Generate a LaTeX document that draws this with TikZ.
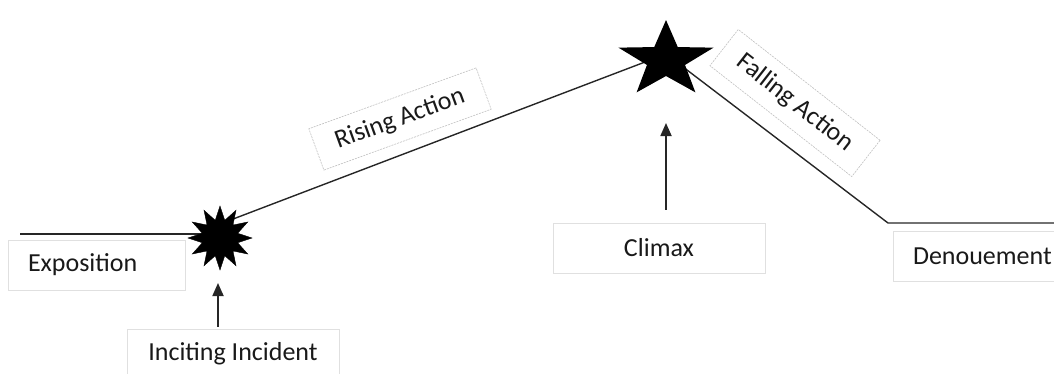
\documentclass[tikz,border=0pt]{standalone}
\usepackage{fontspec}
\setmainfont{Carlito}
\usetikzlibrary{shapes.geometric,arrows.meta,backgrounds,calc}
\begin{document}
\begin{tikzpicture}[x=1pt,y=1pt,
  lbl/.style={font=\fontsize{26}{30}\selectfont, text=black!90},
  box/.style={lbl, draw=black!12, line width=0.8pt, inner sep=0pt, minimum height=50pt},
  dbox/.style={lbl, draw=black!25, dashed, dash pattern=on 2pt off 1pt, line width=0.6pt, inner sep=0pt},
  plot/.style={line width=1.4pt, draw=black!85},
  up/.style={line width=1.8pt, draw=black!85, -{Triangle[width=11pt,length=13pt]}}
]
\useasboundingbox (0,0) rectangle (1054,-373);

% labels
\node[box, text width=137pt, inner xsep=20pt, align=left] (expo) at (96.5,-265) {Exposition};
\node[box, minimum width=212pt] (climax) at (659,-248) {Climax};
\node[box, text width=130pt, inner xsep=20pt, align=left] (denou) at (978,-256.5) {Denouement};
\node[box, minimum width=212pt] (incite) at (233,-354) {Inciting Incident};
\node[dbox, rotate=20, minimum width=178pt, minimum height=44pt] (rising) at (400,-119) {Rising Action};
\node[dbox, rotate=-38, minimum width=180pt, minimum height=46pt] (falling) at (795,-103) {Falling Action};

% markers
\node[star, star points=12, star point ratio=1.75, fill=black, draw=black, minimum size=64pt, inner sep=0pt] (burst) at (220,-238) {};
\begin{scope}[shift={(666,-60)}, xscale=1.25]
\node[transform shape, star, star points=5, star point ratio=2.5, fill=black, minimum size=80pt, inner sep=0pt] (peak) at (0,0) {};
\end{scope}

\coordinate (lstart) at (20,-234);
\coordinate (fallend) at (888,-223);
\coordinate (rend) at (1054,-223);

\begin{pgfonlayer}{background}
\draw[plot] (lstart) -- ([yshift=4pt]burst.center);
\draw[plot] ([yshift=14pt]burst.center) -- ([yshift=6pt]peak.center);
\draw[plot] ([yshift=6pt]peak.center) -- (fallend) -- (rend);
\end{pgfonlayer}

\draw[up] ($(peak.center |- climax.north)+(0,13)$) -- ([yshift=-63pt]peak.center);
\draw[up] ($(burst.center |- incite.north)+(-2,2)$) -- ([xshift=-2pt,yshift=-45pt]burst.center);
\end{tikzpicture}
\end{document}
